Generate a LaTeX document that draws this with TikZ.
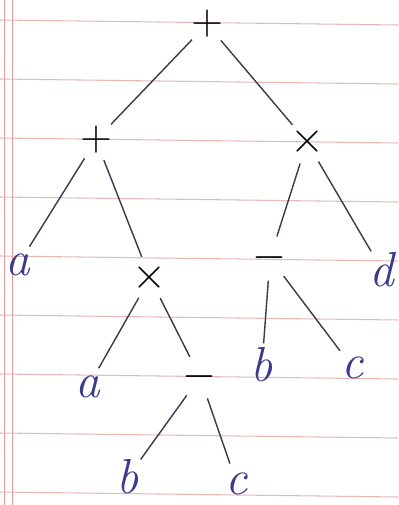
\documentclass[tikz,border=0pt]{standalone}
\usepackage{tikz}
\usetikzlibrary{positioning}
\definecolor{ink}{HTML}{3B3A8E}
\definecolor{pencil}{HTML}{3A3A4E}
\definecolor{ruled}{HTML}{E7B9B4}
\definecolor{margin}{HTML}{EE9A9A}

\begin{document}
\begin{tikzpicture}[on grid,
    op/.style={circle,minimum size=8.5mm,inner sep=0pt,text=black,
               font=\fontsize{28}{30}\selectfont},
    leaf/.style={circle,minimum size=8.5mm,inner sep=0pt,text=ink,
                 font=\fontsize{28}{30}\selectfont\itshape},
    branch/.style={pencil,line width=0.8pt}]
    \useasboundingbox[fill=white] (0,0) rectangle (7.96,-10.1);
    % ruled paper
    \foreach \i in {0,...,8}
        \draw[ruled,line width=0.6pt] (0,{-0.4-1.18*\i}) -- (7.96,{-0.5-1.18*\i});
    \draw[margin,line width=0.5pt] (0.08,0) -- (0.08,-10.1);
    \draw[margin,line width=0.5pt] (0.24,0) -- (0.24,-10.1);

    % tree
    \node[op] (root) at (4.14,-0.48) {$+$};
    \node[op,below left=2.32cm and 2.22cm of root] (plusL) {$+$};
    \node[op,below right=2.36cm and 2.0cm of root] (timesR) {$\times$};
    \node[leaf,below left=2.5cm and 1.56cm of plusL] (aL) {a};
    \node[op,below right=2.76cm and 1.08cm of plusL] (timesM) {$\times$};
    \node[op,below left=2.32cm and 0.74cm of timesR] (minusR) {$-$};
    \node[leaf,below right=2.56cm and 1.5cm of timesR] (dR) {d};
    \node[leaf,below left=2.18cm and 1.24cm of timesM] (aM) {a};
    \node[op,below right=1.98cm and 1.0cm of timesM] (minusM) {$-$};
    \node[leaf,below left=2.14cm and 0.16cm of minusR] (bR) {b};
    \node[leaf,below right=2.2cm and 1.66cm of minusR] (cR) {c};
    \node[leaf,below left=2.0cm and 1.44cm of minusM] (bB) {b};
    \node[leaf,below right=2.14cm and 0.74cm of minusM] (cB) {c};

    \draw[branch] (root)--(plusL);
    \draw[branch] (root)--(timesR);
    \draw[branch] (plusL)--(aL);
    \draw[branch] (plusL)--(timesM);
    \draw[branch] (timesR)--(minusR);
    \draw[branch] (timesR)--(dR);
    \draw[branch] (timesM)--(aM);
    \draw[branch] (timesM)--(minusM);
    \draw[branch] (minusR)--(bR);
    \draw[branch] (minusR)--(cR);
    \draw[branch] (minusM)--(bB);
    \draw[branch] (minusM)--(cB);
\end{tikzpicture}
\end{document}
